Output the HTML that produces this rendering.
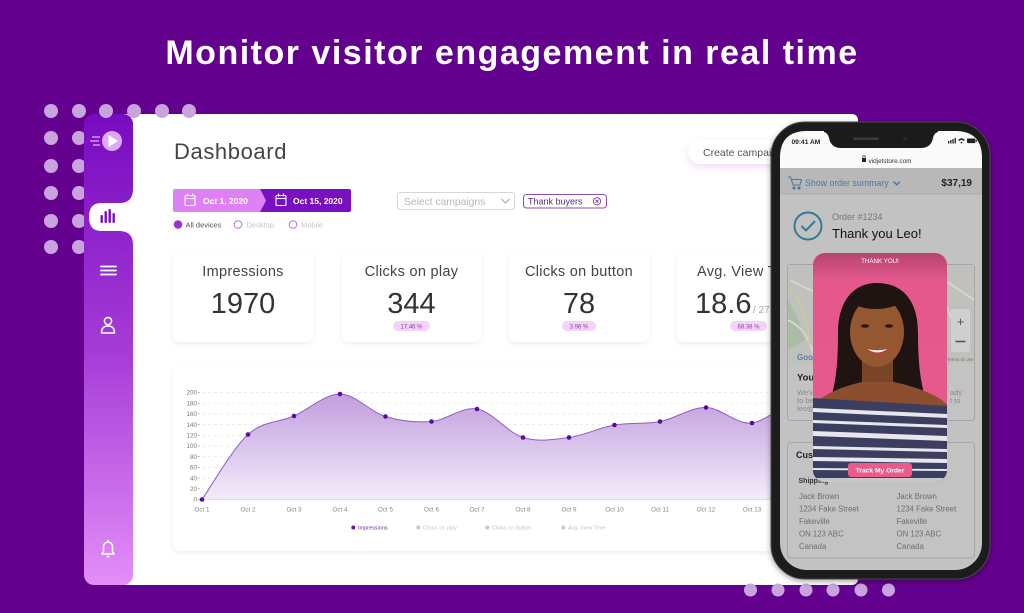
<!DOCTYPE html>
<html>
<head>
<meta charset="utf-8">
<style>
html,body{margin:0;padding:0;background:#64008e;}
svg{display:block;}
text{font-family:"Liberation Sans",sans-serif;}
</style>
</head>
<body>
<svg width="1024" height="613" viewBox="0 0 1024 613" xmlns="http://www.w3.org/2000/svg">
<defs>
  <linearGradient id="side" x1="0" y1="0" x2="0" y2="1">
    <stop offset="0" stop-color="#770bbf"/>
    <stop offset="0.5" stop-color="#a53bd7"/>
    <stop offset="1" stop-color="#e38ef8"/>
  </linearGradient>
  <linearGradient id="area" x1="0" y1="394" x2="0" y2="500" gradientUnits="userSpaceOnUse">
    <stop offset="0" stop-color="#c29edd"/>
    <stop offset="1" stop-color="#f3ecfa"/>
  </linearGradient>
  <linearGradient id="vidtop" x1="0" y1="0" x2="0" y2="1">
    <stop offset="0" stop-color="#b84470"/>
    <stop offset="0.12" stop-color="#e4588c"/>
    <stop offset="1" stop-color="#e85a8e"/>
  </linearGradient>
  <filter id="sh" x="-10%" y="-10%" width="120%" height="130%">
    <feDropShadow dx="0" dy="2" stdDeviation="3" flood-color="#000" flood-opacity="0.07"/>
  </filter>
  <filter id="shp" x="-20%" y="-40%" width="140%" height="200%">
    <feDropShadow dx="0" dy="3" stdDeviation="4" flood-color="#c070e0" flood-opacity="0.25"/>
  </filter>
  <filter id="shphone" x="-10%" y="-5%" width="120%" height="110%">
    <feDropShadow dx="0" dy="2" stdDeviation="3" flood-color="#000" flood-opacity="0.35"/>
  </filter>
  <clipPath id="vclip"><rect x="813" y="253" width="134" height="229" rx="12"/></clipPath>
  <clipPath id="chartclip"><rect x="173" y="366" width="640" height="185" rx="8"/></clipPath>
</defs>

<!-- background -->
<rect width="1024" height="613" fill="#64008e"/>

<!-- title -->
<text x="512" y="64" font-size="34" font-weight="bold" fill="#ffffff" text-anchor="middle" letter-spacing="1.5">Monitor visitor engagement in real time</text>

<!-- dots left column (behind sidebar) -->
<g fill="#c9a3dd">
  <circle cx="51" cy="138" r="7"/><circle cx="79" cy="138" r="7"/>
  <circle cx="51" cy="166" r="7"/><circle cx="79" cy="166" r="7"/>
  <circle cx="51" cy="193" r="7"/><circle cx="79" cy="193" r="7"/>
  <circle cx="51" cy="221" r="7"/><circle cx="79" cy="221" r="7"/>
  <circle cx="51" cy="247" r="7"/><circle cx="79" cy="247" r="7"/>
</g>

<!-- white dashboard panel -->
<rect x="120" y="114" width="738" height="471" rx="6" fill="#ffffff"/>

<!-- sidebar -->
<rect x="84" y="114" width="49" height="471" rx="10" fill="url(#side)"/>
<path d="M133,189 Q133,203 119,203 L101,203 Q89,203 89,217 Q89,231 101,231 L119,231 Q133,231 133,245 Z" fill="#ffffff"/>

<!-- top row dots (over panel) -->
<g fill="#c9a3dd">
  <circle cx="51" cy="111" r="7"/><circle cx="79" cy="111" r="7"/><circle cx="106" cy="111" r="7"/><circle cx="134" cy="111" r="7"/><circle cx="162" cy="111" r="7"/><circle cx="189" cy="111" r="7"/>
</g>

<!-- play icon -->
<g>
  <line x1="92" y1="137" x2="100" y2="137" stroke="#d8a6f6" stroke-width="1.4"/>
  <line x1="90" y1="141" x2="99" y2="141" stroke="#d8a6f6" stroke-width="1.4"/>
  <line x1="93" y1="145" x2="100" y2="145" stroke="#d8a6f6" stroke-width="1.4"/>
  <circle cx="112" cy="141" r="10" fill="#dba9f8"/>
  <path d="M108.5,135 L108.5,147 L118,141 Z" fill="#ffffff"/>
</g>
<!-- bar icon -->
<g fill="#7a10c0">
  <rect x="100.5" y="215" width="2.4" height="8" rx="1"/>
  <rect x="104.5" y="211" width="2.4" height="12" rx="1"/>
  <rect x="108.5" y="209" width="2.4" height="14" rx="1"/>
  <rect x="112.5" y="213" width="2.4" height="10" rx="1"/>
</g>
<!-- hamburger -->
<g stroke="#ffffff" stroke-width="1.8" stroke-linecap="round">
  <line x1="101" y1="266.5" x2="116" y2="266.5"/>
  <line x1="101" y1="270.5" x2="116" y2="270.5"/>
  <line x1="101" y1="274.5" x2="116" y2="274.5"/>
</g>
<!-- user -->
<g stroke="#ffffff" stroke-width="1.6" fill="none">
  <circle cx="108" cy="321" r="3.6"/>
  <path d="M101.5,333 Q101.5,326 108,326 Q114.5,326 114.5,333 Z" stroke-linejoin="round"/>
</g>
<!-- bell -->
<g stroke="#ffffff" stroke-width="1.6" fill="none" stroke-linejoin="round">
  <path d="M102,554 L114,554 L112.5,551.5 L112.5,547 Q112.5,542.5 108,542 Q103.5,542.5 103.5,547 L103.5,551.5 Z"/>
  <line x1="108" y1="540" x2="108" y2="542"/>
  <line x1="106.5" y1="556.5" x2="109.5" y2="556.5"/>
</g>

<!-- Dashboard heading -->
<text x="174" y="159" font-size="22" fill="#444" letter-spacing="0.6">Dashboard</text>

<!-- Create campaign button -->
<rect x="688" y="140" width="132" height="24" rx="12" fill="#ffffff" filter="url(#shp)"/>
<text x="703" y="156" font-size="10.5" fill="#555">Create campaign</text>

<!-- date range -->
<path d="M175,189 L260,189 L266,200.5 L260,212 L175,212 Q173,212 173,210 L173,191 Q173,189 175,189 Z" fill="#df80f6"/>
<path d="M260,189 L349,189 Q351,189 351,191 L351,210 Q351,212 349,212 L260,212 L266,200.5 Z" fill="#7810bf"/>
<g stroke="#ffffff" stroke-width="1.1" fill="none">
  <rect x="185" y="195.5" width="10" height="10" rx="1"/>
  <line x1="185" y1="198.5" x2="195" y2="198.5"/>
  <line x1="187.5" y1="193.5" x2="187.5" y2="196.5"/>
  <line x1="192.5" y1="193.5" x2="192.5" y2="196.5"/>
  <rect x="276" y="195.5" width="10" height="10" rx="1"/>
  <line x1="276" y1="198.5" x2="286" y2="198.5"/>
  <line x1="278.5" y1="193.5" x2="278.5" y2="196.5"/>
  <line x1="283.5" y1="193.5" x2="283.5" y2="196.5"/>
</g>
<text x="203" y="204" font-size="8.5" font-weight="bold" fill="#ffffff">Oct 1, 2020</text>
<text x="293" y="204" font-size="8.5" font-weight="bold" fill="#ffffff">Oct 15, 2020</text>

<!-- radios -->
<circle cx="178" cy="224.5" r="4.3" fill="#9b32d2"/>
<text x="185.5" y="227.3" font-size="7.5" fill="#555">All devices</text>
<circle cx="238" cy="224.5" r="3.8" fill="none" stroke="#b86ce2" stroke-width="1"/>
<text x="246.5" y="227.3" font-size="7.5" fill="#c4c4c4">Desktop</text>
<circle cx="293" cy="224.5" r="3.8" fill="none" stroke="#b86ce2" stroke-width="1"/>
<text x="301" y="227.3" font-size="7.5" fill="#c4c4c4">Mobile</text>

<!-- select campaigns -->
<rect x="397.5" y="192.5" width="117" height="17" rx="3" fill="#fff" stroke="#d6d6d6"/>
<text x="404" y="204.8" font-size="10.3" fill="#b8b8b8">Select campaigns</text>
<path d="M501.5,199 L505.5,203 L509.5,199" stroke="#aaa" stroke-width="1" fill="none"/>
<!-- thank buyers tag -->
<rect x="523.5" y="194.5" width="83" height="13.5" rx="3" fill="#fff" stroke="#8b4cb3"/>
<text x="528" y="204.3" font-size="9" fill="#5a2a80">Thank buyers</text>
<circle cx="597" cy="201.3" r="3.6" fill="none" stroke="#7a3ca8" stroke-width="0.9"/>
<path d="M595.5,199.8 L598.5,202.8 M598.5,199.8 L595.5,202.8" stroke="#7a3ca8" stroke-width="0.9"/>

<!-- stat cards -->
<g filter="url(#sh)">
  <rect x="173" y="252" width="140" height="90" rx="6" fill="#fff"/>
  <rect x="342" y="252" width="139" height="90" rx="6" fill="#fff"/>
  <rect x="509" y="252" width="140" height="90" rx="6" fill="#fff"/>
  <rect x="677" y="252" width="140" height="90" rx="6" fill="#fff"/>
</g>
<g font-size="14.5" fill="#444" text-anchor="middle" letter-spacing="0.3">
  <text x="243" y="276">Impressions</text>
  <text x="411.5" y="276">Clicks on play</text>
  <text x="579" y="276">Clicks on button</text>
</g>
<text x="697" y="276" font-size="14.5" fill="#444" letter-spacing="0.3">Avg. View Time</text>
<g font-size="29" fill="#333" text-anchor="middle">
  <text x="243" y="313">1970</text>
  <text x="411.5" y="313">344</text>
  <text x="579" y="313">78</text>
</g>
<text x="695" y="313" font-size="29" fill="#333">18.6</text>
<text x="753" y="313" font-size="10" fill="#aaa">/ 27.2</text>
<g>
  <rect x="393" y="321" width="37" height="10" rx="5" fill="#f4d3fb"/>
  <text x="411.5" y="328.3" font-size="6" fill="#8a3aa0" text-anchor="middle">17.46 %</text>
  <rect x="562" y="321" width="34" height="10" rx="5" fill="#f4d3fb"/>
  <text x="579" y="328.3" font-size="6" fill="#8a3aa0" text-anchor="middle">3.96 %</text>
  <rect x="730" y="321" width="37" height="10" rx="5" fill="#f4d3fb"/>
  <text x="748.5" y="328.3" font-size="6" fill="#8a3aa0" text-anchor="middle">68.38 %</text>
</g>

<!-- chart card -->
<rect x="173" y="366" width="640" height="185" rx="8" fill="#fff" filter="url(#sh)"/>
<g clip-path="url(#chartclip)">
  <g stroke="#e6e6e6" stroke-width="0.7" stroke-dasharray="3 3">
    <line x1="202" y1="392.5" x2="812" y2="392.5"/>
    <line x1="202" y1="403.2" x2="812" y2="403.2"/>
    <line x1="202" y1="413.9" x2="812" y2="413.9"/>
    <line x1="202" y1="424.6" x2="812" y2="424.6"/>
    <line x1="202" y1="435.3" x2="812" y2="435.3"/>
    <line x1="202" y1="446" x2="812" y2="446"/>
    <line x1="202" y1="456.7" x2="812" y2="456.7"/>
    <line x1="202" y1="467.4" x2="812" y2="467.4"/>
    <line x1="202" y1="478.1" x2="812" y2="478.1"/>
    <line x1="202" y1="488.8" x2="812" y2="488.8"/>
  </g>
  <path d="M202,499.5 C209.7,488.7 232.7,448.4 248,434.5 C263.3,420.6 278.7,422.75 294,416 C309.3,409.25 324.75,393.9 340,394 C355.25,394.1 370.25,411.9 385.5,416.5 C400.75,421.1 416.25,422.75 431.5,421.5 C446.75,420.25 461.75,406.3 477,409 C492.25,411.7 507.7,432.75 523,437.5 C538.3,442.25 553.75,439.6 569,437.5 C584.25,435.4 599.3,427.7 614.5,425 C629.7,422.3 644.75,424.4 660,421.5 C675.25,418.6 690.7,407.25 706,407.5 C721.3,407.75 736.7,425.1 752,423 C767.3,420.9 790.3,399.7 798,395 L830,390 L830,499.5 Z" fill="url(#area)"/>
  <path d="M202,499.5 C209.7,488.7 232.7,448.4 248,434.5 C263.3,420.6 278.7,422.75 294,416 C309.3,409.25 324.75,393.9 340,394 C355.25,394.1 370.25,411.9 385.5,416.5 C400.75,421.1 416.25,422.75 431.5,421.5 C446.75,420.25 461.75,406.3 477,409 C492.25,411.7 507.7,432.75 523,437.5 C538.3,442.25 553.75,439.6 569,437.5 C584.25,435.4 599.3,427.7 614.5,425 C629.7,422.3 644.75,424.4 660,421.5 C675.25,418.6 690.7,407.25 706,407.5 C721.3,407.75 736.7,425.1 752,423 C767.3,420.9 790.3,399.7 798,395" fill="none" stroke="#8e5fc0" stroke-width="1"/>
  <line x1="202" y1="499.5" x2="812" y2="499.5" stroke="#d8d0e2" stroke-width="0.8"/>
  <g fill="#5b0aa0">
    <circle cx="202" cy="499.5" r="2.3"/><circle cx="248" cy="434.5" r="2.3"/><circle cx="294" cy="416" r="2.3"/>
    <circle cx="340" cy="394" r="2.3"/><circle cx="385.5" cy="416.5" r="2.3"/><circle cx="431.5" cy="421.5" r="2.3"/>
    <circle cx="477" cy="409" r="2.3"/><circle cx="523" cy="437.5" r="2.3"/><circle cx="569" cy="437.5" r="2.3"/>
    <circle cx="614.5" cy="425" r="2.3"/><circle cx="660" cy="421.5" r="2.3"/><circle cx="706" cy="407.5" r="2.3"/>
    <circle cx="752" cy="423" r="2.3"/>
  </g>
</g>
<g font-size="6.3" fill="#777" text-anchor="end">
  <text x="197" y="394.7">200</text><text x="197" y="405.4">180</text><text x="197" y="416.1">160</text>
  <text x="197" y="426.8">140</text><text x="197" y="437.5">120</text><text x="197" y="448.2">100</text>
  <text x="197" y="458.9">80</text><text x="197" y="469.6">60</text><text x="197" y="480.3">40</text>
  <text x="197" y="491">20</text><text x="197" y="501.7">0</text>
</g>
<g stroke="#999" stroke-width="0.6">
  <line x1="197.5" y1="392.5" x2="200" y2="392.5"/><line x1="197.5" y1="403.2" x2="200" y2="403.2"/>
  <line x1="197.5" y1="413.9" x2="200" y2="413.9"/><line x1="197.5" y1="424.6" x2="200" y2="424.6"/>
  <line x1="197.5" y1="435.3" x2="200" y2="435.3"/><line x1="197.5" y1="446" x2="200" y2="446"/>
  <line x1="197.5" y1="456.7" x2="200" y2="456.7"/><line x1="197.5" y1="467.4" x2="200" y2="467.4"/>
  <line x1="197.5" y1="478.1" x2="200" y2="478.1"/><line x1="197.5" y1="488.8" x2="200" y2="488.8"/>
  <line x1="197.5" y1="499.5" x2="200" y2="499.5"/>
</g>
<g font-size="6.3" fill="#888" text-anchor="middle">
  <text x="202" y="511.5">Oct 1</text><text x="248" y="511.5">Oct 2</text><text x="294" y="511.5">Oct 3</text>
  <text x="340" y="511.5">Oct 4</text><text x="385.5" y="511.5">Oct 5</text><text x="431.5" y="511.5">Oct 6</text>
  <text x="477" y="511.5">Oct 7</text><text x="523" y="511.5">Oct 8</text><text x="569" y="511.5">Oct 9</text>
  <text x="614.5" y="511.5">Oct 10</text><text x="660" y="511.5">Oct 11</text><text x="706" y="511.5">Oct 12</text>
  <text x="752" y="511.5">Oct 13</text>
</g>
<!-- legend -->
<circle cx="353.3" cy="527.5" r="2" fill="#6a0fb0"/>
<text x="358" y="529.5" font-size="5.5" fill="#6a2aa0">Impressions</text>
<circle cx="418.3" cy="527.5" r="2" fill="#c8c8c8"/>
<text x="423" y="529.5" font-size="5.5" fill="#c5c5c5">Clicks on play</text>
<circle cx="487.3" cy="527.5" r="2" fill="#c8c8c8"/>
<text x="492" y="529.5" font-size="5.5" fill="#c5c5c5">Clicks on button</text>
<circle cx="563.3" cy="527.5" r="2" fill="#c8c8c8"/>
<text x="568" y="529.5" font-size="5.5" fill="#c5c5c5">Avg. View Time</text>

<!-- bottom dots -->
<g fill="#c9a3dd">
  <circle cx="750.5" cy="590" r="6.5"/><circle cx="778" cy="590" r="6.5"/><circle cx="806" cy="590" r="6.5"/>
  <circle cx="833" cy="590" r="6.5"/><circle cx="861" cy="590" r="6.5"/><circle cx="888.5" cy="590" r="6.5"/>
</g>

<!-- PHONE -->
<rect x="771" y="122" width="219" height="457" rx="34" fill="#1b1b1b" stroke="#4a4a4a" stroke-width="1" filter="url(#shphone)"/>
<rect x="780" y="131" width="202" height="439" rx="27" fill="#c2c2c2"/>
<!-- top white area -->
<path d="M807,131 L955,131 Q982,131 982,158 L982,168 L780,168 L780,158 Q780,131 807,131 Z" fill="#fafafa"/>
<!-- notch -->
<path d="M824,130 L938,130 L938,132 Q934,133 933,138 Q931,148 921,148 L841,148 Q831,148 829,138 Q828,133 824,132 Z" fill="#1b1b1b"/>
<rect x="853" y="137.5" width="26" height="2.6" rx="1.3" fill="#3a3a3a"/>
<circle cx="905" cy="139" r="2" fill="#1e2a44"/>
<text x="791.5" y="144" font-size="6.6" font-weight="bold" fill="#222">09:41 AM</text>
<g fill="#222">
  <rect x="948" y="141" width="1.3" height="2.5"/><rect x="950.2" y="140" width="1.3" height="3.5"/>
  <rect x="952.4" y="139" width="1.3" height="4.5"/><rect x="954.6" y="138" width="1.3" height="5.5"/>
  <path d="M958,140 Q961.5,136.5 965,140 L963.8,141 Q961.5,139 959.2,141 Z"/>
  <circle cx="961.5" cy="142.6" r="0.9"/>
  <rect x="967" y="138.5" width="8.5" height="4.6" rx="1"/>
  <rect x="976" y="140" width="0.9" height="1.8"/>
</g>
<!-- url -->
<rect x="862" y="158" width="4" height="4" rx="0.6" fill="#222"/>
<path d="M862.8,158 L862.8,156.5 Q864,154.7 865.2,156.5 L865.2,158" fill="none" stroke="#222" stroke-width="0.7"/>
<text x="868.5" y="163" font-size="6.4" fill="#333">vidjetstore.com</text>
<!-- order summary bar -->
<rect x="780" y="168" width="202" height="26" fill="#b8b8b8"/>
<line x1="780" y1="194" x2="982" y2="194" stroke="#a9a9a9" stroke-width="0.8"/>
<g stroke="#4a78a6" stroke-width="1.1" fill="none" stroke-linejoin="round">
  <path d="M788,177 L790.5,177 L793,185 L800,185 L801.5,179.5 L791.5,179.5"/>
  <circle cx="794" cy="188" r="1" fill="#4a78a6"/>
  <circle cx="799" cy="188" r="1" fill="#4a78a6"/>
</g>
<text x="805" y="186" font-size="8.8" fill="#4a78a6">Show order summary</text>
<path d="M893.5,181.5 L896.7,184.7 L899.9,181.5" fill="none" stroke="#4a78a6" stroke-width="1.4"/>
<text x="972" y="186" font-size="10" font-weight="bold" fill="#222" text-anchor="end">$37,19</text>
<!-- thank you -->
<circle cx="808" cy="226" r="13.5" fill="none" stroke="#2f7d95" stroke-width="2"/>
<path d="M801.5,226 L806,230.5 L815,221" fill="none" stroke="#2f7d95" stroke-width="2"/>
<text x="832" y="220" font-size="9" fill="#777">Order #1234</text>
<text x="832" y="238" font-size="13" fill="#111">Thank you Leo!</text>

<!-- box 1 with map -->
<rect x="787.5" y="264.5" width="187" height="156" rx="3" fill="#c3c3c3" stroke="#a6a6a6" stroke-width="1"/>
<rect x="788" y="265" width="186" height="98" fill="#bfc1bc"/>
<path d="M788,300 Q800,320 805,340 L788,350 Z" fill="#a9bca4"/>
<path d="M790,280 L830,300 M788,320 Q810,330 815,362 M930,270 L974,300 M940,290 L960,340" stroke="#d6d6d0" stroke-width="2" fill="none"/>
<path d="M788,290 Q805,300 810,345" stroke="#d0c79a" stroke-width="2" fill="none"/>
<rect x="951" y="309" width="19" height="43" rx="2" fill="#cfcfcf"/>
<text x="960.5" y="326" font-size="13" fill="#555" text-anchor="middle">+</text>
<line x1="955.5" y1="341.5" x2="965.5" y2="341.5" stroke="#555" stroke-width="1.6"/>
<text x="797" y="360" font-size="8" font-weight="bold" fill="#5a7fae">Google</text>
<text x="947" y="361" font-size="4.5" fill="#777">Terms of Use</text>
<text x="797" y="380.5" font-size="9.5" font-weight="bold" fill="#222">Your</text>
<text x="797" y="395" font-size="7.5" fill="#8a8a8a">We've</text>
<text x="797" y="403" font-size="7.5" fill="#8a8a8a">to be</text>
<text x="797" y="411" font-size="7.5" fill="#8a8a8a">leo@</text>
<text x="950" y="395" font-size="7.5" fill="#8a8a8a">ady</text>
<text x="950" y="403" font-size="7.5" fill="#8a8a8a">t to</text>

<!-- box 2 -->
<rect x="787.5" y="442.5" width="187" height="115.5" rx="3" fill="#c3c3c3" stroke="#a6a6a6" stroke-width="1"/>
<text x="796" y="458" font-size="9" font-weight="bold" fill="#222">Cust</text>
<text x="798.5" y="483" font-size="7" font-weight="bold" fill="#333">Shipping</text>
<g font-size="7.8" fill="#6e6e6e">
  <text x="799" y="499">Jack Brown</text>
  <text x="799" y="511.5">1234 Fake Street</text>
  <text x="799" y="524">Fakeville</text>
  <text x="799" y="536.3">ON 123 ABC</text>
  <text x="799" y="548.8">Canada</text>
  <text x="896.5" y="499">Jack Brown</text>
  <text x="896.5" y="511.5">1234 Fake Street</text>
  <text x="896.5" y="524">Fakeville</text>
  <text x="896.5" y="536.3">ON 123 ABC</text>
  <text x="896.5" y="548.8">Canada</text>
</g>

<!-- video card -->
<g clip-path="url(#vclip)">
  <rect x="813" y="253" width="134" height="229" fill="url(#vidtop)"/>
  <!-- hair -->
  <path d="M877,283 C852,283 838,303 838,333 C838,362 836,384 830,400 L926,400 C920,382 918,360 918,333 C918,301 903,283 877,283 Z" fill="#1f1412"/>
  <!-- neck -->
  <rect x="862" y="352" width="31" height="45" fill="#7a4428"/>
  <!-- shoulders -->
  <path d="M810,412 C818,394 845,386 862,382 L894,382 C912,386 940,394 950,408 L950,425 L810,425 Z" fill="#8b4f30"/>
  <!-- face -->
  <ellipse cx="877" cy="332" rx="27" ry="35" fill="#94572f"/>
  <ellipse cx="876" cy="300" rx="24" ry="9" fill="#1f1412"/>
  <ellipse cx="865" cy="326" rx="4" ry="1.8" fill="#2a1a14"/>
  <ellipse cx="889" cy="326" rx="4" ry="1.8" fill="#2a1a14"/>
  <path d="M866,348 Q877,360 889,348 Q877,352 866,348 Z" fill="#c73b3b"/>
  <path d="M867.5,349 Q877,356 887.5,349 Q877,351.5 867.5,349 Z" fill="#f4f0ee"/>
  <!-- striped top -->
  <path d="M813,398 L947,406 L947,482 L813,482 Z" fill="#3b3e5e"/>
  <g fill="#e6e6ec">
    <path d="M813,408 L947,414 L947,418 L813,412 Z"/>
    <path d="M813,420 L947,425 L947,428 L813,423 Z"/>
    <path d="M813,431 L947,436 L947,441 L813,436 Z"/>
    <path d="M813,446 L947,449 L947,452 L813,449 Z"/>
    <path d="M813,457 L947,459 L947,463 L813,461 Z"/>
    <path d="M813,468 L947,469 L947,471 L813,470 Z"/>
  </g>
  <path d="M813,478 L947,478 L947,482 L813,482 Z" fill="#c8c8cc"/>
</g>
<text x="880" y="263" font-size="6.2" fill="#ffffff" text-anchor="middle">THANK YOU!</text>
<rect x="848" y="463" width="64" height="14" rx="3" fill="#e95b8b"/>
<text x="880" y="472.5" font-size="6.7" font-weight="bold" fill="#ffffff" text-anchor="middle">Track My Order</text>
</svg>
</body>
</html>
